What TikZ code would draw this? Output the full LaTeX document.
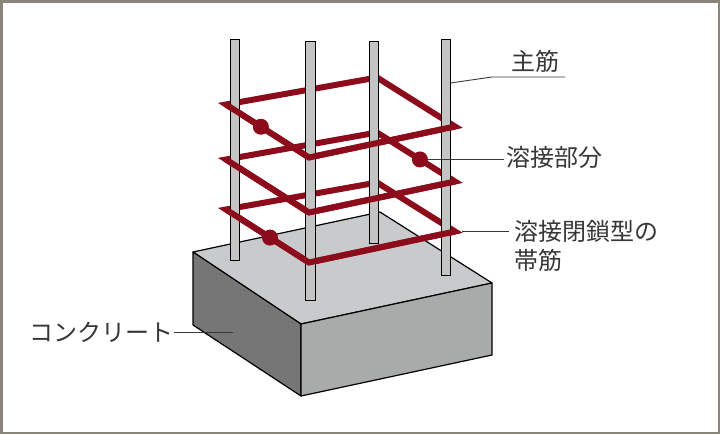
\documentclass[tikz,border=0pt]{standalone}
\usepackage{fontspec}
\newfontfamily\jp{Noto Sans CJK JP}
\usetikzlibrary{calc}
\definecolor{rebar}{RGB}{140,12,28}
\definecolor{barfill}{RGB}{196,196,196}
\definecolor{topface}{RGB}{201,202,203}
\definecolor{leftface}{RGB}{118,118,118}
\definecolor{frontface}{RGB}{169,171,170}
\definecolor{framecol}{RGB}{138,133,124}
\definecolor{txt}{RGB}{55,55,55}
\begin{document}
\begin{tikzpicture}[x=1pt,y=-1pt,
  hoop/.style={draw=rebar,line width=6pt,line join=miter},
  mainbar/.style={draw=black,line width=0.9pt,fill=barfill},
  face/.style={draw=black,line width=1.2pt,line join=round},
  leader/.style={draw=txt,line width=0.9pt},
  jlabel/.style={font=\jp\fontsize{24}{29}\selectfont,text=txt,inner sep=0pt},
  weld/.style={circle,fill=rebar,minimum size=16pt,inner sep=0pt}]
\useasboundingbox (0,0) rectangle (720,434);
% background and frame
\fill[white] (0,0) rectangle (720,434);
\draw[framecol,line width=2.5pt] (1.25,1.25) rectangle (718.75,432.75);
% concrete block
\coordinate (TL) at (193,252);
\coordinate (TB) at (380,212);
\coordinate (TR) at (492,283);
\coordinate (TF) at (301,324);
\coordinate (BL) at (193,325);
\coordinate (BF) at (301,396);
\coordinate (BR) at (492,355);
\draw[face,fill=topface] (TL) -- (TB) -- (TR) -- (TF) -- cycle;
\draw[face,fill=leftface] (TL) -- (TF) -- (BF) -- (BL) -- cycle;
\draw[face,fill=frontface] (TF) -- (TR) -- (BR) -- (BF) -- cycle;
% hoop corner points
\foreach \y/\n in {104.5/a,159.5/b,209.5/c} {
  \coordinate (L\n) at (226,\y);
  \coordinate (B\n) at (377,\y-27);
  \coordinate (R\n) at (455,\y+22);
  \coordinate (F\n) at (309,\y+53);
}
% full hoops (behind bars)
\foreach \n in {a,b,c} {
  \draw[hoop] (L\n) -- (B\n) -- (R\n) -- (F\n) -- cycle;
}
% main bars
\draw[mainbar] (230,39) rectangle (239.5,260);
\draw[mainbar] (305.5,41) rectangle (315,300);
\draw[mainbar] (369,41) rectangle (378.5,243);
\draw[mainbar] (441,39) rectangle (450.5,275);
\coordinate (bar4pt) at (450.5,83);
% front sides of hoops (in front of bars)
\foreach \n in {a,b,c} {
  \draw[hoop] (L\n) -- (F\n) -- (R\n);
}
% weld points
\node[weld] (w1) at ($(La)!0.42!(Fa)$) {};
\node[weld] (w2) at ($(Bb)!0.55!(Rb)$) {};
\node[weld] (w3) at ($(Lc)!0.53!(Fc)$) {};
% labels
\node[jlabel] (lbl1) at (535,61) {主筋};
\node[jlabel,anchor=west] (lbl2) at (506,157) {溶接部分};
\node[jlabel,anchor=north west,align=left] (lbl3) at (514,220) {溶接閉鎖型の\\帯筋};
\node[jlabel,anchor=east] (lbl4) at (174,332) {コンクリート};
% leaders
\coordinate (k1) at (492,77);
\coordinate (k2) at (565,77);
\draw[leader] (bar4pt) -- (k1) -- (k2);
\draw[leader,shorten >=2pt] (w2.east) -- (w2.east -| lbl2.west);
\coordinate (tip3) at (462,231);
\coordinate (k3) at (509,231);
\draw[leader] (tip3) -- (k3);
\coordinate (k4) at (233,332);
\draw[leader] (lbl4.east) -- (k4);
\end{tikzpicture}
\end{document}
